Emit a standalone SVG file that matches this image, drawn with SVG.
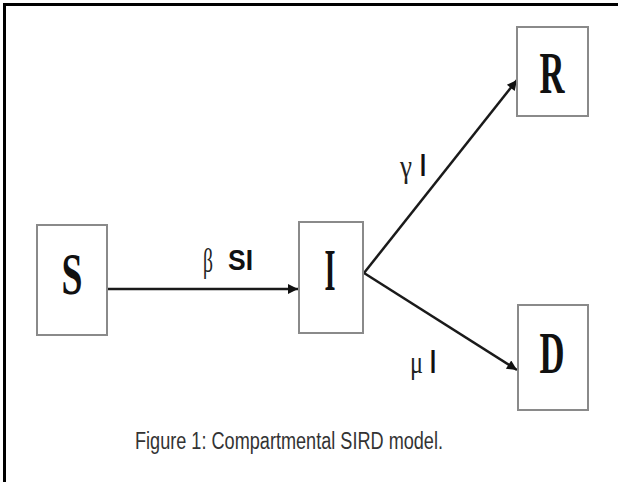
<svg xmlns="http://www.w3.org/2000/svg" width="618" height="482" viewBox="0 0 618 482">
<style>
.box{fill:#fff;stroke:#8a8a8a;stroke-width:2}
.node{font-family:"Liberation Serif",serif;font-weight:bold;font-size:60px;fill:#111;text-anchor:middle}
.lbl{font-family:"Liberation Sans",sans-serif;font-weight:bold;fill:#111}
.greek{font-family:"Liberation Serif",serif;font-weight:normal;fill:#222}
.edge{stroke:#1a1a1a;stroke-width:2.5;fill:none}
.cap{font-family:"Liberation Sans",sans-serif;font-size:23px;fill:#333}
</style>
<defs>
<marker id="ah" viewBox="0 0 10 10" refX="10" refY="5" markerWidth="5.5" markerHeight="4" markerUnits="strokeWidth" orient="auto">
<path d="M0,0 L10,5 L0,10 z" fill="#111"/>
</marker>
</defs>
<rect x="0" y="0" width="618" height="482" fill="#fff"/>
<path d="M4.5,482 V4.5 H618" fill="none" stroke="#000" stroke-width="3"/>
<g id="connectors">
<line class="edge" x1="107" y1="289" x2="298" y2="289" marker-end="url(#ah)"/>
<line class="edge" x1="364" y1="273" x2="517" y2="80" marker-end="url(#ah)"/>
<line class="edge" x1="364" y1="273" x2="517" y2="370" marker-end="url(#ah)"/>
<text class="greek" x="203" y="272" font-size="34" textLength="10" lengthAdjust="spacingAndGlyphs">β</text>
<text class="lbl" x="228" y="270" font-size="30" textLength="25" lengthAdjust="spacingAndGlyphs">SI</text>
<text class="greek" x="400" y="177" font-size="32" textLength="12" lengthAdjust="spacingAndGlyphs">γ</text>
<text class="lbl" x="420" y="176" font-size="32" textLength="6" lengthAdjust="spacingAndGlyphs">I</text>
<text class="greek" x="410" y="373" font-size="32" textLength="13" lengthAdjust="spacingAndGlyphs">μ</text>
<text class="lbl" x="430" y="373" font-size="34" textLength="6" lengthAdjust="spacingAndGlyphs">I</text>
</g>
<g id="S">
<rect class="box" x="37" y="225" width="70" height="110"/>
<text class="node" x="72" y="294" textLength="21" lengthAdjust="spacingAndGlyphs">S</text>
</g>
<g id="I">
<rect class="box" x="299" y="222" width="64" height="111"/>
<text class="node" x="330" y="290" textLength="11" lengthAdjust="spacingAndGlyphs">I</text>
</g>
<g id="R">
<rect class="box" x="517" y="27" width="71" height="89"/>
<text class="node" x="552" y="93" textLength="25" lengthAdjust="spacingAndGlyphs">R</text>
</g>
<g id="D">
<rect class="box" x="518" y="305" width="70" height="105"/>
<text class="node" x="552" y="373" textLength="25" lengthAdjust="spacingAndGlyphs">D</text>
</g>
<text class="cap" x="135" y="449" textLength="308" lengthAdjust="spacingAndGlyphs">Figure 1: Compartmental SIRD model.</text>
</svg>
